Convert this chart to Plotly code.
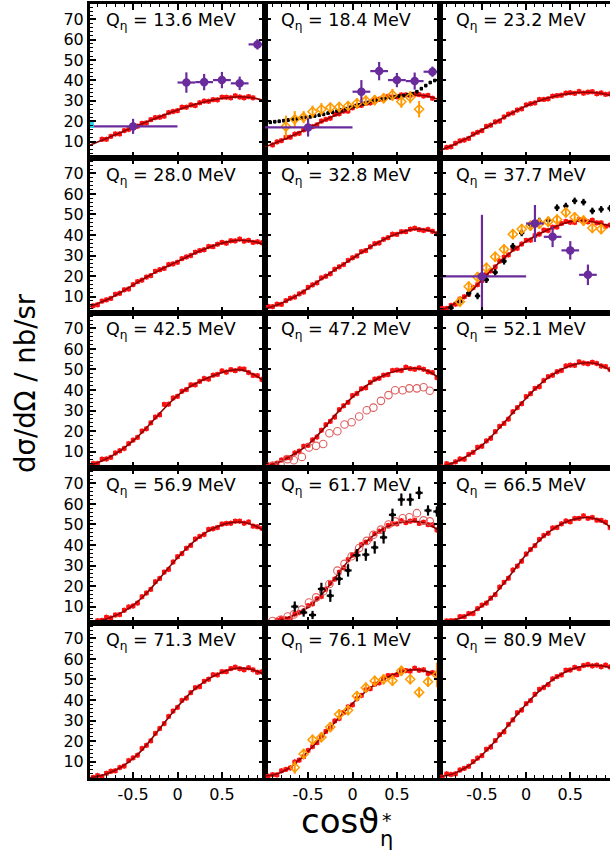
import plotly.graph_objects as go

W, H = 610, 852

Q_LABELS = ["13.6", "18.4", "23.2", "28.0", "32.8", "37.7", "42.5", "47.2",
            "52.1", "56.9", "61.7", "66.5", "71.3", "76.1", "80.9"]

COS_BINS = [-0.95, -0.90, -0.85, -0.80, -0.75, -0.70, -0.65, -0.60, -0.55, -0.50,
            -0.45, -0.40, -0.35, -0.30, -0.25, -0.20, -0.15, -0.10, -0.05, 0.00,
            0.05, 0.10, 0.15, 0.20, 0.25, 0.30, 0.35, 0.40, 0.45, 0.50,
            0.55, 0.60, 0.65, 0.70, 0.75, 0.80, 0.85, 0.90, 0.95]

FIT_COS = [-1.0, -0.9, -0.8, -0.7, -0.6, -0.5, -0.4, -0.3, -0.2, -0.1, 0.0,
           0.1, 0.2, 0.3, 0.4, 0.5, 0.6, 0.7, 0.8, 0.9, 1.0]

# ---- red data (this work) ----
red_13_6 = [None, None, 11.2, 11.2, 12.6, 13.8, 13.8, 15.4, 16.0, 17.6, 17.6, 19.0, 19.2, 20.8, 21.8, 22.0, 22.5, 24.3, 24.8, 25.2, 26.9, 26.9, 28.0, 27.7, 29.1, 29.9, 29.8, 30.6, 30.5, 31.8, 31.8, 31.5, 32.5, 31.9, 31.5, 32.1, 31.5, None, None]
red_18_4 = [None, 8.4, 9.9, 10.5, 12.1, 12.2, 13.7, 14.1, 15.8, 17.1, 17.4, 18.2, 20.1, 20.9, 21.5, 23.4, 23.7, 25.0, 25.0, 26.6, 27.6, 27.8, 28.8, 29.0, 30.5, 30.8, 30.8, 32.2, 31.9, 32.0, 32.9, 32.9, 32.7, 33.3, 33.1, 32.4, 32.7, 31.3, None]
red_23_2 = [None, 7.2, 7.5, 9.2, 10.4, 10.8, 11.6, 13.7, 14.6, 15.4, 17.5, 18.1, 19.7, 20.1, 22.1, 23.5, 24.1, 25.5, 26.1, 28.0, 28.6, 29.0, 30.7, 30.7, 31.0, 32.3, 32.6, 32.8, 33.8, 34.0, 33.7, 34.6, 33.8, 34.3, 34.5, 33.5, 33.9, 33.2, 33.4]
red_28_0 = [5.5, 6.0, 7.8, 8.4, 9.1, 11.1, 11.6, 13.3, 13.7, 15.8, 17.3, 18.0, 19.5, 20.2, 22.3, 23.1, 23.7, 25.6, 25.9, 26.7, 28.5, 29.3, 30.0, 31.6, 32.4, 32.8, 34.4, 34.3, 35.5, 36.4, 36.0, 37.2, 37.1, 38.0, 37.0, 37.4, 36.4, 36.7, 36.2]
red_32_8 = [5.2, 5.1, 6.3, 6.2, 8.0, 9.2, 9.8, 11.3, 12.2, 14.5, 15.7, 16.7, 19.1, 19.9, 21.1, 23.3, 24.5, 25.6, 27.6, 28.9, 29.8, 31.9, 32.4, 34.2, 35.8, 36.1, 37.9, 38.7, 40.4, 40.3, 41.6, 41.6, 42.8, 43.3, 42.6, 42.2, 42.7, 41.8, 40.6]
red_37_7 = [4.2, 4.2, 5.7, 6.3, 8.8, 9.9, 11.1, 14.4, 15.8, 17.7, 20.8, 22.6, 24.4, 27.3, 29.2, 30.3, 33.1, 33.5, 35.6, 37.4, 37.5, 39.7, 40.4, 42.4, 42.2, 43.8, 43.9, 45.6, 46.6, 46.2, 46.1, 47.5, 47.1, 46.4, 47.2, 45.9, 45.9, 44.2, 44.8]
red_42_5 = [4.2, 4.2, 6.3, 6.4, 7.2, 9.3, 10.4, 11.5, 13.9, 15.6, 16.9, 20.0, 21.1, 24.0, 26.8, 27.9, 33.0, 33.1, 36.1, 36.9, 39.4, 40.2, 42.5, 42.5, 44.2, 45.6, 45.3, 47.2, 47.6, 49.3, 48.7, 49.9, 49.4, 50.3, 50.2, 48.5, 47.1, 47.0, 45.1]
red_47_2 = [3.5, 3.9, 4.3, 5.9, 6.9, 7.0, 9.3, 10.2, 12.6, 13.0, 15.7, 17.1, 20.4, 23.1, 24.7, 26.8, 30.4, 32.3, 34.0, 37.3, 38.3, 40.6, 41.1, 43.7, 45.3, 45.7, 47.2, 47.5, 49.5, 49.7, 49.5, 51.1, 50.4, 50.1, 50.8, 50.1, 48.9, 48.5, 46.0]
red_52_1 = [2.5, 4.1, 3.6, 5.0, 6.4, 6.3, 8.6, 9.6, 12.1, 12.6, 15.2, 16.5, 19.7, 22.3, 23.7, 25.8, 29.4, 31.4, 33.3, 36.8, 38.2, 40.8, 41.6, 44.6, 46.5, 47.2, 48.9, 49.5, 51.7, 52.1, 52.0, 53.7, 53.1, 52.8, 53.5, 52.9, 51.7, 51.4, 50.0]
red_56_9 = [2.2, 3.1, 3.3, 4.8, 4.4, 5.9, 6.1, 8.2, 9.8, 10.3, 11.7, 14.8, 16.6, 18.4, 22.1, 23.7, 26.8, 28.1, 31.7, 34.3, 35.8, 38.4, 39.8, 42.9, 44.2, 45.1, 47.6, 47.9, 48.5, 50.2, 50.5, 50.6, 51.6, 51.6, 50.6, 51.2, 49.2, 48.9, 48.1]
red_61_7 = [2.4, 2.2, 3.4, 4.3, 4.0, 4.3, 6.4, 7.1, 7.8, 10.4, 11.3, 13.8, 14.9, 18.5, 21.4, 23.4, 26.7, 28.9, 32.9, 35.1, 36.8, 40.2, 41.4, 42.9, 45.5, 46.7, 47.6, 49.5, 50.3, 50.3, 51.8, 50.9, 51.6, 52.0, 50.5, 51.1, 49.9, 49.8, 47.3]
red_66_5 = [2.1, 3.0, 3.1, 3.2, 5.1, 5.1, 6.6, 6.6, 9.0, 10.7, 11.7, 14.1, 15.8, 19.5, 21.8, 23.8, 27.8, 29.7, 32.1, 35.6, 37.8, 39.7, 42.7, 44.6, 45.7, 48.3, 48.5, 50.3, 51.7, 51.3, 52.9, 53.0, 54.2, 53.0, 53.4, 52.1, 52.0, 51.1, 48.5]
red_71_3 = [2.3, 3.2, 2.6, 4.3, 5.3, 5.5, 7.1, 7.8, 10.5, 11.8, 13.1, 16.4, 17.9, 20.1, 23.7, 26.1, 28.5, 32.0, 34.6, 36.4, 39.8, 40.9, 43.6, 46.0, 46.5, 49.1, 50.1, 52.3, 52.2, 53.8, 53.8, 55.3, 56.0, 55.2, 54.7, 55.7, 54.7, 53.5, 53.7]
red_76_1 = [2.9, 3.6, 3.5, 5.5, 6.2, 6.9, 9.8, 10.7, 12.4, 15.4, 17.3, 19.2, 22.4, 24.7, 26.4, 29.8, 31.0, 33.9, 36.6, 37.6, 40.7, 42.2, 45.0, 45.5, 47.7, 48.3, 50.5, 51.9, 51.9, 52.3, 54.2, 54.3, 54.1, 55.5, 54.5, 54.7, 52.9, 53.3, 52.6]
red_80_9 = [2.4, 4.0, 3.7, 4.0, 5.9, 6.7, 7.7, 10.0, 11.7, 12.9, 16.0, 17.1, 20.2, 23.1, 24.5, 28.1, 30.3, 33.8, 35.1, 38.2, 39.7, 42.8, 45.2, 46.1, 47.5, 50.3, 51.4, 52.2, 54.5, 54.6, 55.9, 55.3, 56.8, 57.3, 56.6, 57.0, 56.2, 57.0, 56.1]

# ---- fit curves ----
fit_13_6 = [8.0, 9.8, 11.6, 13.4, 15.2, 17.0, 18.8, 20.5, 22.2, 23.9, 25.5, 27.0, 28.3, 29.5, 30.5, 31.3, 31.8, 32.0, 31.8, 31.0, 29.8]
fit_18_4 = [7.3, 8.9, 10.6, 12.5, 14.5, 16.6, 18.7, 20.8, 22.8, 24.7, 26.4, 28.0, 29.4, 30.6, 31.6, 32.4, 32.8, 32.9, 32.6, 31.7, 30.2]
fit_23_2 = [5.4, 7.0, 8.9, 11.0, 13.3, 15.7, 18.2, 20.7, 23.1, 25.4, 27.5, 29.3, 30.8, 32.0, 33.0, 33.7, 34.1, 34.2, 34.0, 33.3, 32.3]
fit_28_0 = [5.0, 6.5, 8.3, 10.5, 13.0, 15.6, 18.2, 20.6, 22.9, 25.0, 27.1, 29.2, 31.2, 33.0, 34.7, 36.0, 37.0, 37.4, 37.2, 36.4, 35.0]
fit_32_8 = [4.0, 5.2, 6.8, 8.8, 11.2, 14.0, 17.0, 20.0, 23.0, 25.8, 28.6, 31.4, 34.1, 36.6, 38.8, 40.6, 42.0, 42.8, 42.7, 41.7, 40.0]
fit_37_7 = [3.0, 4.5, 6.8, 9.6, 13.6, 18.2, 22.5, 26.8, 30.6, 34.0, 36.9, 39.4, 41.6, 43.5, 45.2, 46.5, 47.0, 46.8, 46.0, 45.0, 44.0]
fit_42_5 = [3.2, 4.6, 6.5, 8.9, 11.8, 15.2, 19.3, 23.9, 28.6, 33.2, 37.3, 40.5, 43.0, 45.1, 46.9, 48.5, 49.6, 49.9, 48.8, 46.5, 43.5]
fit_47_2 = [2.5, 3.8, 5.4, 7.7, 10.3, 13.4, 17.6, 22.4, 27.5, 32.2, 36.5, 40.2, 43.4, 46.0, 48.0, 49.4, 50.3, 50.6, 50.0, 48.0, 44.8]
fit_52_1 = [2.3, 3.4, 4.9, 7.0, 9.7, 13.0, 17.0, 21.6, 26.5, 31.3, 36.0, 40.4, 44.3, 47.5, 50.0, 51.8, 52.9, 53.3, 52.8, 50.9, 48.0]
fit_56_9 = [2.0, 2.8, 4.0, 5.6, 7.8, 10.6, 14.3, 18.8, 23.8, 28.9, 33.8, 38.3, 42.2, 45.5, 48.0, 49.8, 50.9, 51.2, 50.5, 48.8, 46.2]
fit_61_7 = [1.8, 2.5, 3.6, 5.0, 7.0, 9.6, 13.4, 18.2, 23.7, 29.4, 34.8, 39.4, 43.4, 46.6, 49.0, 50.6, 51.4, 51.5, 50.8, 49.0, 46.3]
fit_66_5 = [1.8, 2.5, 3.6, 5.2, 7.4, 10.2, 14.0, 18.8, 24.2, 29.8, 35.2, 40.0, 44.2, 47.6, 50.2, 52.0, 53.1, 53.4, 52.6, 50.4, 46.8]
fit_71_3 = [2.0, 2.8, 4.0, 5.8, 8.3, 11.5, 15.6, 20.6, 26.0, 31.5, 36.7, 41.4, 45.5, 48.8, 51.5, 53.5, 54.9, 55.5, 55.2, 53.9, 51.8]
fit_76_1 = [3.0, 3.5, 4.8, 7.3, 10.8, 15.0, 19.5, 24.3, 29.1, 33.8, 38.3, 42.3, 45.9, 48.8, 51.2, 53.0, 54.2, 54.7, 54.3, 53.0, 51.0]
fit_80_9 = [2.5, 3.2, 4.5, 6.6, 9.5, 13.2, 17.6, 22.6, 27.8, 33.0, 37.9, 42.4, 46.4, 49.8, 52.6, 54.7, 56.1, 56.8, 56.9, 56.3, 55.2]

# ---- other measurements ----
purple_13_6_cos = [-0.5, 0.1, 0.3, 0.5, 0.7, 0.9]
purple_13_6_dcos = [0.5, 0.1, 0.1, 0.1, 0.1, 0.1]
purple_13_6_val = [17.5, 39.0, 39.2, 40.2, 38.6, 57.7]
purple_13_6_err = [3.7, 5.0, 4.0, 4.0, 3.3, 2.5]
cyan_13_6_cos = [-0.975]
cyan_13_6_val = [18.2]
cyan_13_6_err = [1.5]

purple_18_4_cos = [-0.5, 0.1, 0.3, 0.5, 0.7, 0.9]
purple_18_4_dcos = [0.5, 0.1, 0.1, 0.1, 0.1, 0.1]
purple_18_4_val = [17.0, 34.5, 44.6, 40.2, 39.7, 44.3]
purple_18_4_err = [4.5, 5.7, 4.5, 3.5, 4.2, 2.5]

orange_18_4_cos = [-0.75, -0.65, -0.55, -0.45, -0.35, -0.25, -0.15, -0.05, 0.05, 0.15, 0.25, 0.35, 0.45, 0.55, 0.65, 0.75]
orange_18_4_val = [17.4, 21.0, 22.0, 24.7, 25.9, 26.7, 27.0, 27.5, 28.8, 30.1, 30.4, 31.3, 32.9, 29.6, 31.8, 25.9]
orange_18_4_err = [5.4, 4.0, 3.0, 3.0, 3.0, 2.5, 2.5, 2.5, 2.5, 2.5, 2.5, 2.5, 3.0, 3.0, 3.0, 4.0]

black_18_4_cos = [-0.925, -0.875, -0.825, -0.775, -0.725, -0.675, -0.625, -0.575, -0.525, -0.475,
                  -0.425, -0.375, -0.325, -0.275, -0.225, -0.175, -0.125, -0.075, -0.025, 0.025,
                  0.075, 0.125, 0.175, 0.225, 0.275, 0.325, 0.375, 0.425, 0.475, 0.525,
                  0.575, 0.625, 0.675, 0.725, 0.775, 0.825, 0.875, 0.925]
black_18_4_val = [19.5, 19.8, 20.0, 20.3, 20.6, 21.0, 21.2, 21.6, 22.0, 22.2,
                  22.6, 23.0, 23.4, 24.0, 24.5, 25.0, 25.6, 26.2, 26.8, 27.5,
                  28.0, 28.6, 29.2, 29.8, 30.3, 30.8, 31.2, 31.6, 32.0, 32.3,
                  32.6, 33.0, 33.5, 34.5, 36.0, 37.5, 39.0, 40.0]

purple_37_7_cos = [-0.5, 0.1, 0.3, 0.5, 0.7]
purple_37_7_dcos = [0.5, 0.1, 0.1, 0.1, 0.1]
purple_37_7_val = [19.8, 45.6, 39.1, 32.5, 20.6]
purple_37_7_err = [30.0, 9.0, 5.0, 4.5, 5.0]

orange_37_7_cos = [-0.75, -0.65, -0.55, -0.45, -0.35, -0.25, -0.15, -0.05, 0.05, 0.15, 0.25, 0.35, 0.45, 0.55, 0.65, 0.75, 0.85]
orange_37_7_val = [7.5, 14.9, 19.5, 24.0, 29.4, 33.0, 40.4, 42.9, 44.5, 45.5, 46.5, 47.5, 51.0, 48.6, 47.0, 43.4, 42.9]
orange_37_7_err = [2.5, 2.5, 2.5, 2.5, 2.5, 2.5, 2.5, 2.5, 2.5, 2.5, 2.5, 2.5, 2.5, 2.5, 2.5, 2.5, 2.5]

black_37_7_cos = [-0.85, -0.75, -0.65, -0.55, -0.45, -0.35, -0.25, -0.15, -0.05, 0.05,
                  0.15, 0.25, 0.35, 0.45, 0.55, 0.65, 0.75, 0.85, 0.95]
black_37_7_val = [4.5, 7.5, 11.6, 10.3, 18.2, 21.8, 27.2, 34.5, 41.0, 45.1,
                  46.8, 47.2, 53.3, 54.1, 56.6, 56.0, 51.7, 52.5, 53.0]

circle_47_2_cos = [-0.90, -0.81, -0.73, -0.66, -0.57, -0.49, -0.41, -0.33, -0.26, -0.17, -0.09, -0.01,
                   0.075, 0.16, 0.235, 0.32, 0.405, 0.48, 0.565, 0.64, 0.725, 0.80, 0.87]
circle_47_2_val = [3.0, 3.8, 6.3, 5.8, 7.4, 12.0, 12.8, 13.7, 18.9, 19.9, 23.2, 24.3,
                   27.1, 30.1, 31.4, 34.7, 37.5, 39.9, 39.9, 40.8, 40.8, 41.3, 39.6]

black_61_7_cos = [-0.65, -0.55, -0.45, -0.35, -0.25, -0.15, -0.05, 0.05, 0.15, 0.25, 0.35, 0.45, 0.55, 0.65, 0.75, 0.85, 0.95]
black_61_7_val = [10.0, 7.1, 5.9, 18.6, 15.3, 23.5, 27.6, 35.0, 35.3, 38.8, 43.7, 54.7, 62.1, 62.1, 65.4, 56.8, 56.3]
black_61_7_err = [2.5, 2.0, 2.0, 3.0, 3.0, 3.0, 3.0, 3.0, 3.0, 3.0, 3.0, 3.0, 3.0, 3.0, 3.0, 2.5, 2.5]

circle_61_7_cos = [-0.90, -0.81, -0.73, -0.66, -0.57, -0.49, -0.41, -0.33, -0.26, -0.17, -0.09, -0.01,
                   0.075, 0.16, 0.235, 0.32, 0.405, 0.48, 0.565, 0.64, 0.725, 0.80, 0.87]
circle_61_7_val = [3.0, 3.6, 5.2, 6.2, 8.5, 12.0, 14.5, 17.5, 21.0, 27.5, 30.8, 34.5,
                   38.5, 42.0, 45.0, 47.5, 50.0, 51.5, 53.0, 53.5, 55.5, 52.0, 51.5]

orange_76_1_cos = [-0.65, -0.55, -0.45, -0.35, -0.25, -0.15, -0.05, 0.05, 0.15, 0.25, 0.35, 0.45, 0.55, 0.65, 0.75, 0.85, 0.95]
orange_76_1_val = [7.1, 13.7, 20.6, 21.9, 26.8, 33.0, 35.0, 41.9, 46.0, 49.3, 50.1, 49.4, 54.2, 50.1, 43.7, 48.9, 52.2]
orange_76_1_err = [3.0, 2.5, 2.5, 2.5, 2.5, 2.5, 2.5, 2.5, 2.5, 2.5, 2.5, 2.5, 2.5, 2.5, 2.5, 2.5, 6.0]

RED_SETS = [red_13_6, red_18_4, red_23_2, red_28_0, red_32_8, red_37_7, red_42_5, red_47_2,
            red_52_1, red_56_9, red_61_7, red_66_5, red_71_3, red_76_1, red_80_9]
FIT_SETS = [fit_13_6, fit_18_4, fit_23_2, fit_28_0, fit_32_8, fit_37_7, fit_42_5, fit_47_2,
            fit_52_1, fit_56_9, fit_61_7, fit_66_5, fit_71_3, fit_76_1, fit_80_9]

# ---- geometry ----
COL_PX = [(90, 265), (265, 440), (440, 610)]
ROW_PX = [(4, 158), (158, 313), (313, 468), (468, 623), (623, 778)]
X_RANGES = [[-0.985, 0.985], [-0.985, 0.985], [-0.975, 0.95]]
Y_RANGE = [2, 77.5]

FONT = "DejaVu Sans"
RED = "#ff1010"
FITC = "#8b0000"
PURPLE = "#6a2c9c"
ORANGE = "#ff9a00"
CIRC = "rgb(222,95,95)"

fig = go.Figure()


def ax(k):
    return ("x" if k == 1 else f"x{k}"), ("y" if k == 1 else f"y{k}")


def add_err_points(k, xs, ys, color, symbol, size, ey=None, ex=None, thick=2.0, line_w=1.5):
    xa, ya = ax(k)
    tr = dict(x=xs, y=ys, mode="markers", xaxis=xa, yaxis=ya, hoverinfo="skip",
              marker=dict(color=color, symbol=symbol, size=size, line=dict(color=color, width=line_w)))
    if ey is not None:
        tr["error_y"] = dict(type="data", array=ey, color=color, thickness=thick, width=0)
    if ex is not None:
        tr["error_x"] = dict(type="data", array=ex, color=color, thickness=thick, width=0)
    fig.add_trace(go.Scatter(**tr))


for i in range(15):
    k = i + 1
    xa, ya = ax(k)
    # red data points
    fig.add_trace(go.Scatter(
        x=COS_BINS, y=RED_SETS[i], mode="markers", xaxis=xa, yaxis=ya, hoverinfo="skip",
        marker=dict(color=RED, size=4.5, symbol="square"),
        error_y=dict(type="constant", value=1.3, color=RED, thickness=1.5, width=0),
        error_x=dict(type="constant", value=0.024, color=RED, thickness=2, width=0)))
    # fit curve
    fig.add_trace(go.Scatter(
        x=FIT_COS, y=FIT_SETS[i], mode="lines", xaxis=xa, yaxis=ya, hoverinfo="skip",
        line=dict(color=FITC, width=1.6, shape="spline", smoothing=1.0)))

# panel 1: 13.6
add_err_points(1, purple_13_6_cos, purple_13_6_val, PURPLE, "circle", 7,
               ey=purple_13_6_err, ex=purple_13_6_dcos, thick=2.2)
xa, ya = ax(1)
fig.add_trace(go.Scatter(x=cyan_13_6_cos, y=cyan_13_6_val, mode="markers", xaxis=xa, yaxis=ya,
                         cliponaxis=False, hoverinfo="skip",
                         marker=dict(color="#22d3e6", size=6, symbol="square"),
                         error_y=dict(type="data", array=cyan_13_6_err, color="#22d3e6", thickness=2, width=0)))
# panel 2: 18.4
add_err_points(2, black_18_4_cos, black_18_4_val, "black", "square", 3,
               ey=[0.9] * len(black_18_4_val), ex=[0.018] * len(black_18_4_val), thick=2.4, line_w=0)
add_err_points(2, orange_18_4_cos, orange_18_4_val, ORANGE, "diamond-open", 7,
               ey=orange_18_4_err, thick=2.0)
add_err_points(2, purple_18_4_cos, purple_18_4_val, PURPLE, "circle", 7,
               ey=purple_18_4_err, ex=purple_18_4_dcos, thick=2.2)
# panel 6: 37.7
add_err_points(6, black_37_7_cos, black_37_7_val, "black", "square", 3.5,
               ey=[1.6] * len(black_37_7_val), ex=[0.03] * len(black_37_7_val), thick=2.2, line_w=0)
add_err_points(6, orange_37_7_cos, orange_37_7_val, ORANGE, "diamond-open", 7,
               ey=orange_37_7_err, thick=2.0)
add_err_points(6, purple_37_7_cos, purple_37_7_val, PURPLE, "circle", 7,
               ey=purple_37_7_err, ex=purple_37_7_dcos, thick=2.2)
# panel 8: 47.2
add_err_points(8, circle_47_2_cos, circle_47_2_val, CIRC, "circle-open", 7.5, line_w=1.1)
# panel 11: 61.7
add_err_points(11, circle_61_7_cos, circle_61_7_val, CIRC, "circle-open", 7.5, line_w=1.1)
add_err_points(11, black_61_7_cos, black_61_7_val, "black", "square", 3.5,
               ey=black_61_7_err, ex=[0.04] * len(black_61_7_val), thick=2.2, line_w=0)
# panel 14: 76.1
add_err_points(14, orange_76_1_cos, orange_76_1_val, ORANGE, "diamond-open", 7,
               ey=orange_76_1_err, thick=2.0)

layout = dict(width=W, height=H, margin=dict(l=0, r=0, t=0, b=0),
              paper_bgcolor="white", plot_bgcolor="white", showlegend=False,
              font=dict(family=FONT, color="black"))
annotations = []
for i in range(15):
    k = i + 1
    r, c = divmod(i, 3)
    x0, x1 = COL_PX[c]
    y0, y1 = ROW_PX[r]
    xname = "xaxis" if k == 1 else f"xaxis{k}"
    yname = "yaxis" if k == 1 else f"yaxis{k}"
    xa, ya = ax(k)
    layout[xname] = dict(
        domain=[x0 / W, x1 / W], anchor=ya, range=X_RANGES[c],
        showline=True, linewidth=3, linecolor="black", mirror="ticks",
        ticks="inside", ticklen=6, tickwidth=1.5, tickcolor="black",
        tickvals=[-0.5, 0, 0.5], ticktext=["-0.5", "0", "0.5"],
        showticklabels=(r == 4), tickfont=dict(family=FONT, size=16),
        minor=dict(ticks="inside", ticklen=3, tickwidth=1, dtick=0.1, tick0=0, tickcolor="black"),
        showgrid=False, zeroline=False, fixedrange=True)
    layout[yname] = dict(
        domain=[1 - y1 / H, 1 - y0 / H], anchor=xa, range=Y_RANGE,
        showline=True, linewidth=3, linecolor="black", mirror=("ticks" if c < 2 else False),
        ticks="inside", ticklen=6, tickwidth=1.5, tickcolor="black",
        tickvals=[10, 20, 30, 40, 50, 60, 70],
        showticklabels=(c == 0), tickfont=dict(family=FONT, size=16),
        minor=dict(ticks="inside", ticklen=3, tickwidth=1, dtick=2, tick0=0, tickcolor="black"),
        showgrid=False, zeroline=False, fixedrange=True)
    annotations.append(dict(
        xref=f"{xa} domain", yref=f"{ya} domain",
        x=14 / (x1 - x0), y=1 - 18 / (y1 - y0), xanchor="left", yanchor="middle",
        text=f"Q<sub>η</sub> = {Q_LABELS[i]} MeV", showarrow=False,
        font=dict(family=FONT, size=17.5, color="black")))

annotations.append(dict(xref="paper", yref="paper", x=25 / W, y=1 - 383 / H,
                        text="dσ/dΩ / nb/sr", textangle=-90, showarrow=False,
                        xanchor="center", yanchor="middle",
                        font=dict(family=FONT, size=27.5, color="black")))
annotations.append(dict(xref="paper", yref="paper", x=340 / W, y=1 - 821 / H,
                        text="cosϑ", showarrow=False, xanchor="center", yanchor="middle",
                        font=dict(family=FONT, size=34, color="black")))
annotations.append(dict(xref="paper", yref="paper", x=387 / W, y=1 - 820 / H,
                        text="*", showarrow=False, xanchor="center", yanchor="middle",
                        font=dict(family=FONT, size=19, color="black")))
annotations.append(dict(xref="paper", yref="paper", x=386 / W, y=1 - 839 / H,
                        text="η", showarrow=False, xanchor="center", yanchor="middle",
                        font=dict(family=FONT, size=21, color="black")))
layout["annotations"] = annotations
fig.update_layout(**layout)

fig.write_html("out.html", config={"displayModeBar": False},
               post_script="document.body.style.margin='0px';document.body.style.overflow='hidden';")
